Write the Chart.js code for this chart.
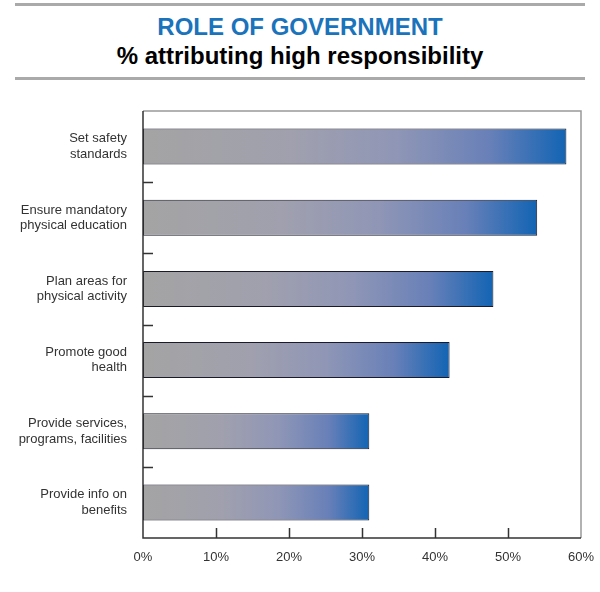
<!DOCTYPE html>
<html>
<head>
  <title>Role of Government</title>
  <script src="https://cdn.jsdelivr.net/npm/chart.js"></script>
</head>
<body style="margin:0;background:#fff;font-family:'Liberation Sans',Arial,sans-serif;">
  <div style="position:absolute;left:15px;top:3px;width:570px;height:71px;border-top:3px solid #aaa;border-bottom:3px solid #aaa;text-align:center;">
    <div style="color:#1a73bb;font-weight:bold;font-size:24px;margin-top:6px;line-height:29px;">ROLE OF GOVERNMENT</div>
    <div style="color:#000;font-weight:bold;font-size:24px;line-height:29px;">% attributing high responsibility</div>
  </div>
  <div style="position:absolute;left:0;top:0;width:600px;height:592px;">
    <canvas id="roleChart"></canvas>
  </div>

  <script>
    // categories and values (% attributing high responsibility)
    const categories = [
      ['Set safety', 'standards'],
      ['Ensure mandatory', 'physical education'],
      ['Plan areas for', 'physical activity'],
      ['Promote good', 'health'],
      ['Provide services,', 'programs, facilities'],
      ['Provide info on', 'benefits']
    ];
    const values = [58, 54, 48, 42, 31, 31];
    const xTicks = [0, 10, 20, 30, 40, 50, 60];

    // gradient from grey at the base to blue at the end of each bar
    function barFill(ctx) {
      const chart = ctx.chart;
      if (!chart.chartArea || !chart.scales.x) return '#9aa0b4';
      const x = chart.scales.x;
      const x0 = x.getPixelForValue(0);
      const x1 = x.getPixelForValue(ctx.raw);
      const g = chart.ctx.createLinearGradient(x0, 0, x1, 0);
      g.addColorStop(0, '#a4a4a4');
      g.addColorStop(0.35, '#a0a0ae');
      g.addColorStop(0.6, '#8f96b6');
      g.addColorStop(0.82, '#6880b8');
      g.addColorStop(1, '#1264b4');
      return g;
    }

    // frame and inward tick marks
    const frame = {
      id: 'frame',
      afterDatasetsDraw(chart) {
        const { ctx, chartArea: a, scales } = chart;
        ctx.save();
        ctx.lineWidth = 1.5;
        ctx.strokeStyle = '#999';
        ctx.beginPath();
        ctx.moveTo(a.left, a.top); ctx.lineTo(a.right, a.top); ctx.lineTo(a.right, a.bottom);
        ctx.stroke();
        ctx.strokeStyle = '#333';
        ctx.beginPath();
        ctx.moveTo(a.left, a.top); ctx.lineTo(a.left, a.bottom); ctx.lineTo(a.right, a.bottom);
        // x ticks pointing up
        xTicks.slice(1, -1).forEach(v => {
          const px = Math.round(scales.x.getPixelForValue(v)) + 0.5;
          ctx.moveTo(px, a.bottom); ctx.lineTo(px, a.bottom - 10);
        });
        // y ticks between categories
        for (let i = 0; i < categories.length - 1; i++) {
          const py = Math.round((scales.y.getPixelForValue(i) + scales.y.getPixelForValue(i + 1)) / 2) + 0.5;
          ctx.moveTo(a.left, py); ctx.lineTo(a.left + 10, py);
        }
        ctx.stroke();
        ctx.restore();
      }
    };

    new Chart(document.getElementById('roleChart'), {
      type: 'bar',
      data: {
        labels: categories,
        datasets: [{
          data: values,
          backgroundColor: barFill,
          borderColor: '#1a1a2a',
          borderWidth: 1,
          borderSkipped: false,
          barPercentage: 0.505,
          categoryPercentage: 1
        }]
      },
      options: {
        indexAxis: 'y',
        responsive: true,
        maintainAspectRatio: false,
        animation: false,
        layout: { padding: { top: 111, right: 19, left: 0, bottom: 0 } },
        plugins: {
          legend: { display: false },
          tooltip: { enabled: false }
        },
        scales: {
          x: {
            min: 0,
            max: 60,
            afterFit: s => { s.height = 54; s.paddingRight = 0; s.paddingLeft = 0; },
            afterBuildTicks: s => { s.ticks = xTicks.map(v => ({ value: v })); },
            grid: { display: false, drawTicks: false },
            border: { display: false },
            ticks: {
              padding: 12,
              color: '#333',
              font: { family: 'Liberation Sans', size: 13 },
              callback: v => v + '%'
            }
          },
          y: {
            afterFit: s => { s.width = 143; s.paddingTop = 0; s.paddingBottom = 0; },
            grid: { display: false, drawTicks: false },
            border: { display: false },
            ticks: {
              padding: 16,
              color: '#333',
              font: { family: 'Liberation Sans', size: 13 }
            }
          }
        }
      },
      plugins: [frame]
    });
  </script>
</body>
</html>
